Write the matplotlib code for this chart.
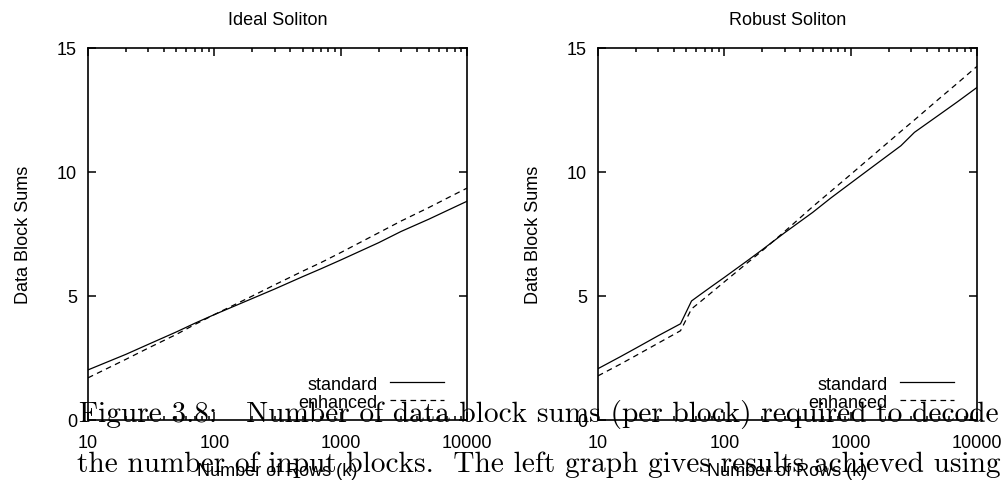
import matplotlib
matplotlib.use("Agg")
import matplotlib.pyplot as plt
from matplotlib.ticker import LogLocator, NullFormatter

# Number of rows (k) at which each series was sampled
k_ideal = [10, 20, 30, 50, 70, 100, 200, 300, 500, 700, 1000, 2000, 3000, 5000, 7000, 10000]
ideal_standard = [2.02, 2.65, 3.05, 3.55, 3.9, 4.25, 4.9, 5.28, 5.78, 6.1, 6.45, 7.15, 7.6, 8.1, 8.45, 8.82]
ideal_enhanced = [1.7, 2.45, 2.9, 3.45, 3.85, 4.25, 5.0, 5.45, 6.0, 6.35, 6.75, 7.55, 8.02, 8.57, 8.95, 9.35]

k_robust = [10, 15, 20, 30, 45, 55, 65, 80, 100, 150, 200, 300, 500, 700, 1000, 1500,
            2500, 3200, 5000, 7000, 10000]
robust_standard = [2.07, 2.55, 2.9, 3.4, 3.88, 4.8, 5.07, 5.4, 5.75, 6.4, 6.87, 7.55, 8.37,
                   8.96, 9.55, 10.22, 11.06, 11.6, 12.3, 12.83, 13.41]
robust_enhanced = [1.78, 2.25, 2.6, 3.1, 3.6, 4.48, 4.78, 5.16, 5.57, 6.31, 6.83, 7.6, 8.6,
                   9.23, 9.9, 10.67, 11.64, 12.1, 12.95, 13.58, 14.26]

titles = ["Ideal Soliton", "Robust Soliton"]
series_labels = ["standard", "enhanced"]
x_ticks = [10, 100, 1000, 10000]
x_tick_labels = ["10", "100", "1000", "10000"]
y_ticks = [0, 5, 10, 15]
y_tick_labels = ["0", "5", "10", "15"]
x_label = "Number of Rows (k)"
y_label = "Data Block Sums"
caption_1 = "Figure 3.8:   Number of data block sums (per block) required to decode"
caption_2 = "the number of input blocks.  The left graph gives results achieved using the"

plt.rcParams["font.family"] = ["Liberation Sans", "DejaVu Sans"]
FS = 13

fig = plt.figure(figsize=(10.06, 4.81), dpi=100)
fig.patch.set_facecolor("white")

# Caption lines sit behind the plots
fig.text(79 / 1006, 1 - 422 / 481, caption_1, family="cmr10", fontsize=21.1,
         va="baseline", ha="left", zorder=0)
fig.text(77 / 1006, 1 - 472 / 481, caption_2, family="cmr10", fontsize=21.1,
         va="baseline", ha="left", zorder=0)

ax_w = 379 / 1006
ax_h = (421 - 49) / 481
ax_b = (481 - 421) / 481
axes = [fig.add_axes([88 / 1006, ax_b, ax_w, ax_h]),
        fig.add_axes([598 / 1006, ax_b, ax_w, ax_h])]

data = [(k_ideal, ideal_standard, ideal_enhanced),
        (k_robust, robust_standard, robust_enhanced)]

for ax, title, (k, std, enh) in zip(axes, titles, data):
    ax.patch.set_alpha(0)
    ax.plot(k, std, color="black", lw=0.9, label=series_labels[0])
    ax.plot(k, enh, color="black", lw=0.9, linestyle=(0, (4.5, 3.5)), label=series_labels[1])
    ax.set_xscale("log")
    ax.set_xlim(10, 10000)
    ax.set_ylim(0, 15)
    ax.set_xticks(x_ticks, labels=x_tick_labels)
    ax.xaxis.set_minor_locator(LogLocator(base=10, subs=range(2, 10)))
    ax.xaxis.set_minor_formatter(NullFormatter())
    ax.set_yticks(y_ticks, labels=y_tick_labels)
    ax.tick_params(which="both", direction="in", top=True, right=True, labelsize=FS,
                   width=1.1, color="black")
    ax.tick_params(which="major", length=6)
    ax.tick_params(which="minor", length=3)
    ax.tick_params(axis="x", pad=10)
    ax.tick_params(axis="y", pad=8)
    for s in ax.spines.values():
        s.set_linewidth(1.2)
    ax.set_title(title, fontsize=FS, pad=17)
    ax.set_xlabel(x_label, fontsize=FS, labelpad=8)
    ax.set_ylabel(y_label, fontsize=FS, labelpad=18)
    ax.legend(loc="lower right", frameon=False, markerfirst=False, fontsize=FS,
              handlelength=3.0, handletextpad=0.7, labelspacing=0.05,
              borderaxespad=0, borderpad=0, bbox_to_anchor=(0.94, 0.025))

fig.savefig("out.png", dpi=100)
